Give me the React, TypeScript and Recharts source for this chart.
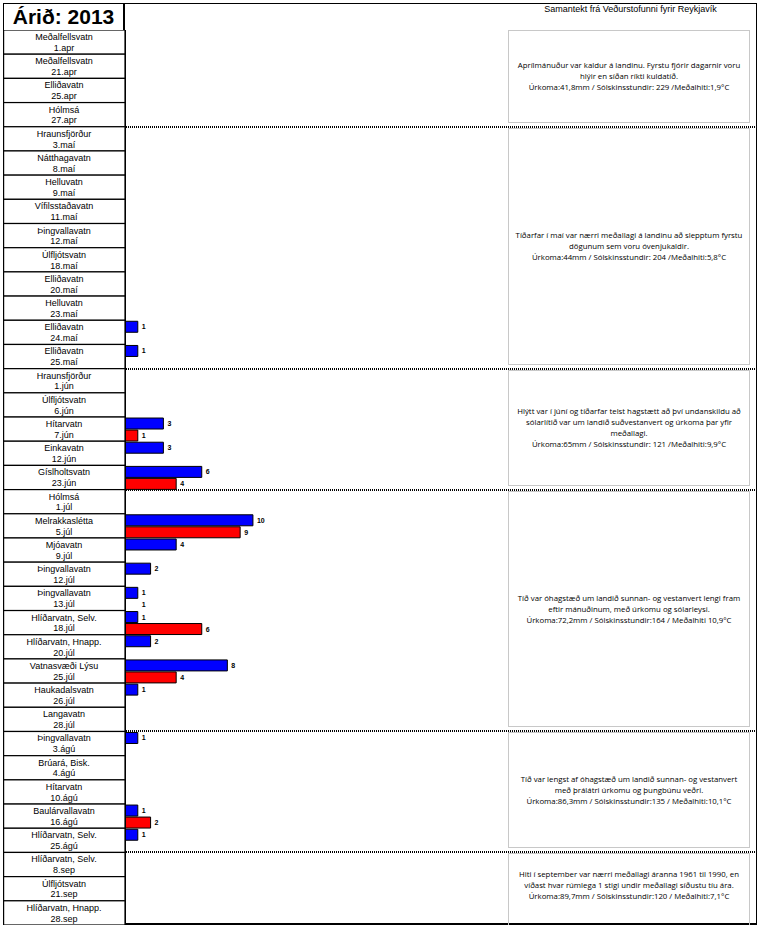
import React from 'react';
import { BarChart, Bar, XAxis, YAxis, Cell, LabelList } from 'recharts';

// veiðistaður og dagsetning fyrir hverja röð
const locations = [
  'Meðalfellsvatn', 'Meðalfellsvatn', 'Elliðavatn', 'Hólmsá',
  'Hraunsfjörður', 'Nátthagavatn', 'Helluvatn', 'Vífilsstaðavatn', 'Þingvallavatn',
  'Úlfljótsvatn', 'Elliðavatn', 'Helluvatn', 'Elliðavatn', 'Elliðavatn',
  'Hraunsfjörður', 'Úlfljótsvatn', 'Hítarvatn', 'Einkavatn', 'Gíslholtsvatn',
  'Hólmsá', 'Melrakkaslétta', 'Mjóavatn', 'Þingvallavatn', 'Þingvallavatn',
  'Hlíðarvatn, Selv.', 'Hlíðarvatn, Hnapp.', 'Vatnasvæði Lýsu', 'Haukadalsvatn', 'Langavatn',
  'Þingvallavatn', 'Brúará, Bisk.', 'Hítarvatn', 'Baulárvallavatn', 'Hlíðarvatn, Selv.',
  'Hlíðarvatn, Selv.', 'Úlfljótsvatn', 'Hlíðarvatn, Hnapp.',
];
const dates = [
  '1.apr', '21.apr', '25.apr', '27.apr',
  '3.maí', '8.maí', '9.maí', '11.maí', '12.maí', '18.maí', '20.maí', '23.maí', '24.maí', '25.maí',
  '1.jún', '6.jún', '7.jún', '12.jún', '23.jún',
  '1.júl', '5.júl', '9.júl', '12.júl', '13.júl', '18.júl', '20.júl', '25.júl', '26.júl', '28.júl',
  '3.ágú', '4.ágú', '10.ágú', '16.ágú', '25.ágú',
  '8.sep', '21.sep', '28.sep',
];
const blueCounts: (number | null)[] = [
  null, null, null, null,
  null, null, null, null, null, null, null, null, 1, 1,
  null, null, 3, 3, 6,
  null, 10, 4, 2, 1, 1, 2, 8, 1, null,
  1, null, null, 1, 1,
  null, null, null,
];
const redCounts: (number | null)[] = [
  null, null, null, null,
  null, null, null, null, null, null, null, null, null, null,
  null, null, 1, null, 4,
  null, 9, null, null, 1, 6, null, 4, null, null,
  null, null, null, 2, null,
  null, null, null,
];
// rauða súlan sést ekki þennan dag, bara talan
const hiddenRed = ['13.júl'];

// fjöldi raða í hverjum mánuði
const monthRows = [4, 10, 5, 10, 5, 3];
const monthTexts = [
  'Aprílmánuður var kaldur á landinu. Fyrstu fjórir dagarnir voru\nhlýir en síðan ríkti kuldatíð.\nÚrkoma:41,8mm / Sólskinsstundir: 229 /Meðalhiti:1,9°C',
  'Tíðarfar í maí var nærri meðallagi á landinu að slepptum fyrstu\ndögunum sem voru óvenjukaldir.\nÚrkoma:44mm / Sólskinsstundir: 204 /Meðalhiti:5,8°C',
  'Hlýtt var í júní og tíðarfar telst hagstætt að því undanskildu að\nsólarlítið var um landið suðvestanvert og úrkoma þar yfir\nmeðallagi.\nÚrkoma:65mm / Sólskinsstundir: 121 /Meðalhiti:9,9°C',
  'Tíð var óhagstæð um landið sunnan- og vestanvert lengi fram\neftir mánuðinum, með úrkomu og sólarleysi.\nÚrkoma:72,2mm / Sólskinsstundir:164 / Meðalhiti 10,9°C',
  'Tíð var lengst af óhagstæð um landið sunnan- og vestanvert\nmeð þrálátri úrkomu og þungbúnu veðri.\nÚrkoma:86,3mm / Sólskinsstundir:135 / Meðalhiti:10,1°C',
  'Hiti í september var nærri meðallagi áranna 1961 til 1990, en\nvíðast hvar rúmlega 1 stigi undir meðallagi síðustu tíu ára.\nÚrkoma:89,7mm / Sólskinsstundir:120 / Meðalhiti:7,1°C',
];

const data = dates.map((d, i) => ({ date: d, blue: blueCounts[i], red: redCounts[i] }));

const CHART_W = 754;
const CHART_H = 895;
const CHART_TOP = 30;
const LEFT_W = 122;
const ROW = CHART_H / dates.length;
const FONT = 'Arial, "Liberation Sans", sans-serif';

const boundaries = monthRows.reduce<number[]>((acc, n) => [...acc, acc[acc.length - 1] + n], [0]);

const CellTick = (props: any) => {
  const { y, payload } = props;
  const i = dates.indexOf(payload.value);
  const top = y - ROW / 2;
  return (
    <g>
      <rect x={0.6} y={top} width={LEFT_W - 0.6} height={ROW} fill="#fff" stroke="#000" strokeWidth={1.2} />
      <text x={LEFT_W / 2} y={top + 10} textAnchor="middle" fontSize={9} fontFamily={FONT} fill="#000">
        {locations[i]}
      </text>
      <text x={LEFT_W / 2} y={top + 20.8} textAnchor="middle" fontSize={9} fontFamily={FONT} fill="#000">
        {payload.value}
      </text>
    </g>
  );
};

const fmt = (v: any) => (v == null ? '' : v);

export default function App() {
  return (
    <div style={{ position: 'absolute', left: 0, top: 0, width: 761, height: 928, background: '#fff', fontFamily: FONT }}>
      {/* rammi */}
      <div style={{ position: 'absolute', left: 3, top: 3, width: 754, height: 922, border: '1.5px solid #000', borderBottom: '2px solid #000', boxSizing: 'border-box' }} />
      <div style={{
        position: 'absolute', left: 3, top: 3, width: LEFT_W, height: 27, boxSizing: 'border-box',
        borderRight: '2px solid #000', borderLeft: '1.5px solid #000', textAlign: 'center',
        fontSize: 21, fontWeight: 'bold', lineHeight: '28px',
      }}>
        Árið: 2013
      </div>
      <div style={{ position: 'absolute', left: 500, top: 4, width: 261, textAlign: 'center', fontSize: 9 }}>
        Samantekt frá Veðurstofunni fyrir Reykjavík
      </div>

      {/* punktalínur milli mánaða */}
      {boundaries.slice(1, -1).map(b => (
        <div key={b} style={{
          position: 'absolute', left: 3 + LEFT_W + 1, top: CHART_TOP + b * ROW - 1, width: CHART_W - LEFT_W - 1,
          height: 2, background: 'repeating-linear-gradient(to right, #000 0 1px, transparent 1px 2px)',
        }} />
      ))}

      {monthTexts.map((t, m) => {
        const top = CHART_TOP + boundaries[m] * ROW + (m === 0 ? 0 : 1);
        const bottom = m === monthTexts.length - 1 ? 925 : CHART_TOP + boundaries[m + 1] * ROW - 4;
        return (
          <div key={m} style={{
            position: 'absolute', left: 508, top, width: 242, height: bottom - top, boxSizing: 'border-box',
            border: '1px solid #c8c8c8', borderBottom: m === monthTexts.length - 1 ? 'none' : '1px solid #c8c8c8',
            display: 'flex', alignItems: 'center', justifyContent: 'center',
            textAlign: 'center', whiteSpace: 'pre', fontFamily: '"Open Sans", sans-serif',
            fontSize: 7.8, lineHeight: '11px', color: '#000', paddingBottom: m === 5 ? 8 : 0,
          }}>
            {t}
          </div>
        );
      })}

      <div style={{ position: 'absolute', left: 3, top: CHART_TOP }}>
        <BarChart
          width={CHART_W}
          height={CHART_H}
          data={data}
          layout="vertical"
          margin={{ top: 0, right: 0, bottom: 0, left: 0 }}
          barCategoryGap={1}
          barGap={1}
        >
          <XAxis type="number" domain={[0, 49.4]} hide allowDataOverflow />
          <YAxis
            type="category"
            dataKey="date"
            width={LEFT_W}
            interval={0}
            tick={<CellTick />}
            tickLine={false}
            axisLine={{ stroke: '#000', strokeWidth: 2 }}
          />
          <Bar dataKey="blue" fill="#0000ff" stroke="#000" strokeWidth={1} isAnimationActive={false}>
            <LabelList dataKey="blue" position="right" offset={4} formatter={fmt}
              style={{ fontSize: 7, fontWeight: 'bold', fill: '#000', fontFamily: FONT }} />
          </Bar>
          <Bar dataKey="red" fill="#ff0000" stroke="#000" strokeWidth={1} isAnimationActive={false}>
            {data.map(d => (
              <Cell key={d.date}
                fill={hiddenRed.includes(d.date) ? 'none' : '#ff0000'}
                stroke={hiddenRed.includes(d.date) ? 'none' : '#000'} />
            ))}
            <LabelList dataKey="red" position="right" offset={4} formatter={fmt}
              style={{ fontSize: 7, fontWeight: 'bold', fill: '#000', fontFamily: FONT }} />
          </Bar>
        </BarChart>
      </div>
    </div>
  );
}
